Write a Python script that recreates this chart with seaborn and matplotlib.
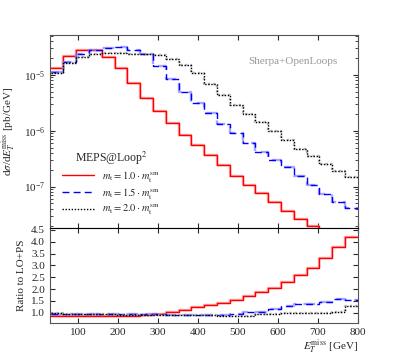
import matplotlib
matplotlib.use("Agg")
import matplotlib.pyplot as plt
import matplotlib.ticker as mticker
import seaborn as sns
import pandas as pd
import numpy as np

# bin edges of the missing-E_T histogram (GeV)
edges = list(range(32, 801, 32))

# d sigma / d E_T^miss  [pb/GeV], one value per bin
xs_m10 = [1.32e-5, 2.19e-5, 2.80e-5, 2.80e-5, 2.12e-5, 1.32e-5, 7.1e-6, 3.83e-6,
          2.27e-6, 1.37e-6, 8.45e-7, 5.6e-7, 3.71e-7, 2.46e-7, 1.56e-7, 1.08e-7,
          7.65e-8, 5.28e-8, 3.69e-8, 2.65e-8, 1.99e-8, 1.5e-8, 1.1e-8, 8.0e-9]
xs_m15 = [1.13e-5, 1.71e-5, 2.38e-5, 2.80e-5, 3.04e-5, 3.10e-5, 2.80e-5, 2.38e-5,
          1.45e-5, 8.4e-6, 5.0e-6, 3.19e-6, 2.06e-6, 1.33e-6, 9.05e-7, 6.15e-7,
          4.25e-7, 3.01e-7, 2.29e-7, 1.58e-7, 1.08e-7, 7.43e-8, 5.41e-8, 4.22e-8]
xs_m20 = [1.09e-5, 1.64e-5, 2.10e-5, 2.38e-5, 2.43e-5, 2.43e-5, 2.38e-5, 2.38e-5,
          2.28e-5, 1.91e-5, 1.53e-5, 1.07e-5, 6.9e-6, 4.33e-6, 2.87e-6, 2.00e-6,
          1.43e-6, 1.01e-6, 6.88e-7, 4.80e-7, 3.56e-7, 2.56e-7, 1.92e-7, 1.46e-7]

# ratio to LO+PS
ratio_m10 = [0.87, 0.86, 0.86, 0.87, 0.87, 0.87, 0.88, 0.89, 0.96, 1.02, 1.11, 1.23,
             1.34, 1.42, 1.55, 1.71, 1.86, 2.06, 2.29, 2.58, 2.88, 3.30, 3.80, 4.19]
ratio_m15 = [0.97, 0.95, 0.94, 0.93, 0.93, 0.93, 0.93, 0.93, 0.93, 0.92, 0.92, 0.91,
             0.90, 0.92, 0.96, 1.02, 1.04, 1.16, 1.30, 1.36, 1.38, 1.47, 1.58, 1.54]
ratio_m20 = [0.99, 0.96, 0.94, 0.93, 0.93, 0.92, 0.92, 0.92, 0.91, 0.91, 0.90, 0.90,
             0.89, 0.88, 0.87, 0.87, 0.93, 0.96, 1.00, 1.00, 1.00, 1.00, 1.04, 1.27]

labels = [r"$m_{\rm t} = 1.0 \cdot m_{\rm t}^{\rm sm}$",
          r"$m_{\rm t} = 1.5 \cdot m_{\rm t}^{\rm sm}$",
          r"$m_{\rm t} = 2.0 \cdot m_{\rm t}^{\rm sm}$"]

sns.set_style("ticks")
plt.rcParams["font.family"] = ["Liberation Serif", "DejaVu Serif"]
plt.rcParams["mathtext.fontset"] = "stix"
plt.rcParams["font.size"] = 8
plt.rcParams["axes.edgecolor"] = "#555555"
plt.rcParams["xtick.direction"] = "in"
plt.rcParams["ytick.direction"] = "in"


def steps(vals):
    # repeat last value so steps-post closes the final bin
    return pd.DataFrame({"x": edges, "y": list(vals) + [vals[-1]]})


fig = plt.figure(figsize=(3.99, 3.59), dpi=100)
ax1 = fig.add_axes([0.125, 0.366, 0.772, 0.537])
ax2 = fig.add_axes([0.125, 0.101, 0.772, 0.265])

styles = [
    ("#ff0000", "#ff8080", "-", 1.0),
    ("#0000ff", "#8080ff", (0, (5, 3)), 1.0),
    ("#000000", "#999999", (0, (1, 1.2)), 1.0),
]

for ax, series in [(ax1, [xs_m10, xs_m15, xs_m20]),
                   (ax2, [ratio_m10, ratio_m15, ratio_m20])]:
    for vals, (col, light, ls, lw), lab in zip(series, styles, labels):
        df = steps(vals)
        sns.lineplot(data=df, x="x", y="y", ax=ax, color=light, lw=1.7,
                     linestyle=ls, drawstyle="steps-post", alpha=0.7)
        sns.lineplot(data=df, x="x", y="y", ax=ax, color=col, lw=lw,
                     linestyle=ls, drawstyle="steps-post",
                     label=lab if ax is ax1 else None)

# top panel
ax1.set_yscale("log")
ax1.set_xlim(30, 800)
ax1.set_ylim(1.85e-8, 5.2e-5)
ax1.set_xlabel("")
ax1.set_ylabel(r"d$\sigma$/d$E_T^{\rm miss}$ [pb/GeV]")
ax1.set_xticks(range(100, 801, 100))
ax1.tick_params(axis="x", labelbottom=False)
ax1.tick_params(which="both", top=True, right=True)
ax1.text(0.79, 0.86, "Sherpa+OpenLoops", transform=ax1.transAxes,
         ha="center", va="center", color="#999999", fontsize=8)
ax1.legend(loc="upper left", bbox_to_anchor=(0.01, 0.455), frameon=False,
           title=r"MEPS@Loop$^2$", fontsize=7.5, title_fontsize=8.5,
           handlelength=3.0, labelspacing=0.2, handletextpad=0.8)

# ratio panel
ax2.set_xlim(30, 800)
ax2.set_ylim(0.58, 4.6)
ax2.set_xticks(range(100, 801, 100))
ax2.set_yticks(np.arange(1.0, 4.51, 0.5))
ax2.yaxis.set_major_formatter(mticker.FormatStrFormatter("%.1f"))
ax2.tick_params(which="both", top=True, right=True)
ax2.spines["top"].set_color("black")
ax2.set_ylabel("Ratio to LO+PS")
ax2.set_xlabel(r"$E_T^{\rm miss}$ [GeV]", loc="right", labelpad=1)

fig.savefig("out.png", dpi=100)
